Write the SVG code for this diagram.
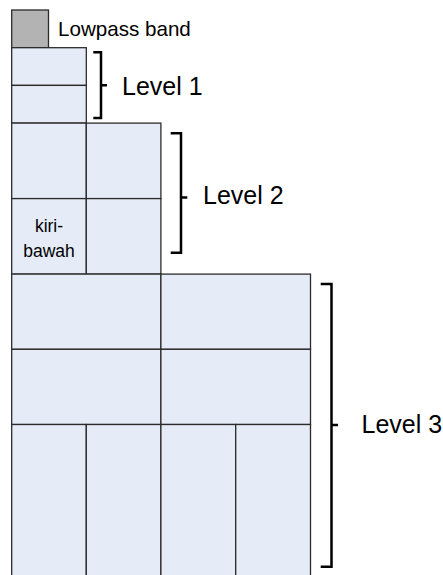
<svg xmlns="http://www.w3.org/2000/svg" width="443" height="575" viewBox="0 0 443 575">
  <style>
    .band { fill: #e5ecf7; stroke: #2b2b2b; stroke-width: 1.3; }
    .low { fill: #b3b3b3; stroke: #2b2b2b; stroke-width: 1.3; }
    .brace { fill: none; stroke: #000; stroke-width: 2.5; stroke-linejoin: miter; }
    .label { font-family: "Liberation Sans", Arial, sans-serif; fill: #000; }
    .lvl { font-size: 25px; }
    .small { font-size: 20.6px; }
    .cell { font-size: 17.5px; text-anchor: middle; }
  </style>

  <!-- lowpass band -->
  <g id="lowpass">
    <rect class="low" x="11.7" y="10" width="36.8" height="37.7"/>
    <text class="label small" x="58" y="36">Lowpass band</text>
  </g>

  <!-- level 1 sub-bands -->
  <g id="level1">
    <rect class="band" x="11.7" y="47.7" width="74.6" height="37.7"/>
    <rect class="band" x="11.7" y="85.4" width="74.6" height="37.7"/>
  </g>

  <!-- level 2 sub-bands -->
  <g id="level2">
    <rect class="band" x="11.7" y="123.1" width="74.6" height="75.5"/>
    <rect class="band" x="86.3" y="123.1" width="74.6" height="75.5"/>
    <rect class="band" x="11.7" y="198.6" width="74.6" height="75.5"/>
    <rect class="band" x="86.3" y="198.6" width="74.6" height="75.5"/>
    <text class="label cell" x="49" y="232">kiri-</text>
    <text class="label cell" x="49" y="256.5">bawah</text>
  </g>

  <!-- level 3 sub-bands -->
  <g id="level3">
    <rect class="band" x="11.7" y="274.1" width="149.2" height="75.2"/>
    <rect class="band" x="160.9" y="274.1" width="149.6" height="75.2"/>
    <rect class="band" x="11.7" y="349.3" width="149.2" height="75.2"/>
    <rect class="band" x="160.9" y="349.3" width="149.6" height="75.2"/>
    <rect class="band" x="11.7" y="424.5" width="74.6" height="152"/>
    <rect class="band" x="86.3" y="424.5" width="74.6" height="152"/>
    <rect class="band" x="160.9" y="424.5" width="74.8" height="152"/>
    <rect class="band" x="235.7" y="424.5" width="74.8" height="152"/>
  </g>

  <!-- braces and level labels -->
  <g id="braces">
    <path class="brace" d="M93.3 52.3 H101 V118 H93.3 M101 85.3 H107"/>
    <path class="brace" d="M170.7 133.3 H181 V252.7 H170.7 M181 197.5 H187.3"/>
    <path class="brace" d="M320.7 284 H331.5 V566.7 H320.7 M331.5 425 H338"/>
  </g>
  <g id="labels">
    <text class="label lvl" x="122" y="95">Level 1</text>
    <text class="label lvl" x="203" y="204">Level 2</text>
    <text class="label lvl" x="361.5" y="433">Level 3</text>
  </g>
</svg>
